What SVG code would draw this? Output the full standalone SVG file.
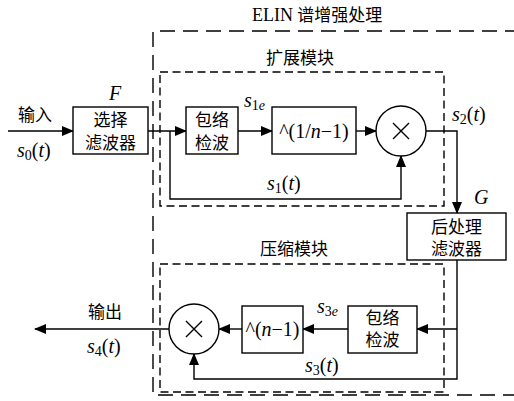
<svg xmlns="http://www.w3.org/2000/svg" width="514" height="401" viewBox="0 0 514 401">
<defs>
<marker id="ah" markerWidth="12" markerHeight="10" refX="11" refY="5" orient="auto" markerUnits="userSpaceOnUse">
<path d="M0,0 L12,5 L0,10 Z" fill="#000"/>
</marker>
<style>
.box{fill:#fff;stroke:#000;stroke-width:1.4}
.ln{fill:none;stroke:#000;stroke-width:1.4}
.od{fill:none;stroke:#000;stroke-width:1.4;stroke-dasharray:15 8}
.id{fill:none;stroke:#000;stroke-width:1.4;stroke-dasharray:8 4.5}
.cj{font-family:"Liberation Serif","Noto Sans CJK SC",serif;font-size:17px;fill:#000}
.m{font-family:"Liberation Serif",serif;font-size:20px;fill:#000}
.i{font-style:italic}
.c{text-anchor:middle}
</style>
</defs>
<rect width="514" height="401" fill="#fff"/>
<g id="outer">
<path class="od" d="M520,31 H153 V395 H520"/>
<text class="cj" x="252" y="21"><tspan font-size="18">ELIN</tspan> 谱增强处理</text>
</g>
<g id="expand">
<rect class="id" x="160" y="72" width="284" height="134"/>
<text class="cj" x="266" y="64">扩展模块</text>
</g>
<g id="compress">
<rect class="id" x="160" y="264" width="284" height="128"/>
<text class="cj" x="260" y="255">压缩模块</text>
</g>
<g id="connectors">
<line class="ln" x1="8" y1="131" x2="73" y2="131" marker-end="url(#ah)"/>
<line class="ln" x1="148" y1="131" x2="186" y2="131" marker-end="url(#ah)"/>
<line class="ln" x1="238" y1="131" x2="272" y2="131" marker-end="url(#ah)"/>
<line class="ln" x1="356" y1="131" x2="376" y2="131" marker-end="url(#ah)"/>
<path class="ln" d="M170,131 V199 H401 V156" marker-end="url(#ah)"/>
<path class="ln" d="M426,131 H457 V213" marker-end="url(#ah)"/>
<path class="ln" d="M457,260 V379 H194 V354" marker-end="url(#ah)"/>
<line class="ln" x1="457" y1="329" x2="417" y2="329" marker-end="url(#ah)"/>
<line class="ln" x1="348" y1="329" x2="303" y2="329" marker-end="url(#ah)"/>
<line class="ln" x1="242" y1="329" x2="219" y2="329" marker-end="url(#ah)"/>
<line class="ln" x1="169" y1="329" x2="35" y2="329" marker-end="url(#ah)"/>
</g>
<g id="labels">
<text class="cj" x="18" y="121">输入</text>
<text class="m" x="17" y="157"><tspan class="i">s</tspan><tspan font-size="14" dy="3">0</tspan><tspan dy="-3">(</tspan><tspan class="i">t</tspan>)</text>
<text class="m i" x="109" y="100">F</text>
<text class="m" x="244" y="107"><tspan class="i">s</tspan><tspan font-size="14" dy="3">1</tspan><tspan font-size="14" class="i">e</tspan></text>
<text class="m" x="452" y="121"><tspan class="i">s</tspan><tspan font-size="14" dy="3">2</tspan><tspan dy="-3">(</tspan><tspan class="i">t</tspan>)</text>
<text class="m" x="267" y="190"><tspan class="i">s</tspan><tspan font-size="14" dy="3">1</tspan><tspan dy="-3">(</tspan><tspan class="i">t</tspan>)</text>
<text class="m i" x="474" y="204">G</text>
<text class="m" x="317" y="313"><tspan class="i">s</tspan><tspan font-size="14" dy="3">3</tspan><tspan font-size="14" class="i">e</tspan></text>
<text class="m" x="305" y="372"><tspan class="i">s</tspan><tspan font-size="14" dy="3">3</tspan><tspan dy="-3">(</tspan><tspan class="i">t</tspan>)</text>
<text class="cj" x="88" y="318">输出</text>
<text class="m" x="87" y="353"><tspan class="i">s</tspan><tspan font-size="14" dy="3">4</tspan><tspan dy="-3">(</tspan><tspan class="i">t</tspan>)</text>
</g>
<g id="selfilter">
<rect class="box" x="73" y="107" width="75" height="47"/>
<text class="cj c" x="110.5" y="126">选择</text>
<text class="cj c" x="110.5" y="149">滤波器</text>
</g>
<g id="env1">
<rect class="box" x="186" y="107" width="52" height="47"/>
<text class="cj c" x="212" y="126">包络</text>
<text class="cj c" x="212" y="149">检波</text>
</g>
<g id="pow1">
<rect class="box" x="272" y="107" width="84" height="47"/>
<text class="m c" x="314" y="138">^(1/<tspan class="i">n</tspan>−1)</text>
</g>
<g id="mul1">
<circle class="box" cx="401" cy="131" r="25"/>
<path class="ln" d="M393,123 L409,139 M409,123 L393,139" stroke-width="1.8"/>
</g>
<g id="postfilter">
<rect class="box" x="407" y="213" width="99" height="47"/>
<text class="cj c" x="456.5" y="233">后处理</text>
<text class="cj c" x="456.5" y="255">滤波器</text>
</g>
<g id="env2">
<rect class="box" x="348" y="306" width="69" height="47"/>
<text class="cj c" x="382.5" y="324">包络</text>
<text class="cj c" x="382.5" y="346">检波</text>
</g>
<g id="pow2">
<rect class="box" x="242" y="306" width="61" height="47"/>
<text class="m c" x="272.5" y="336">^(<tspan class="i">n</tspan>−1)</text>
</g>
<g id="mul2">
<circle class="box" cx="194" cy="329" r="25"/>
<path class="ln" d="M186,321 L202,337 M202,321 L186,337" stroke-width="1.8"/>
</g>
</svg>
